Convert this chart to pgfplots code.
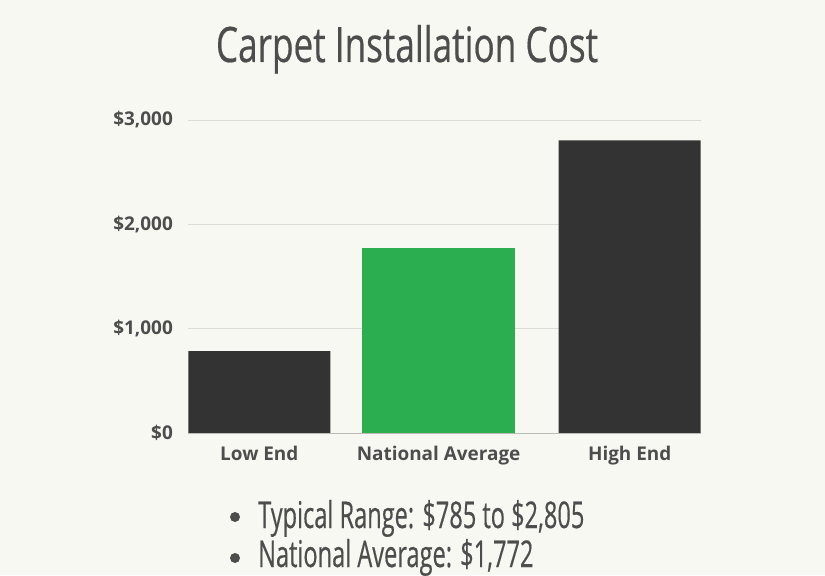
\documentclass[border=0pt]{standalone}
\usepackage{fontspec}
\setmainfont{Open Sans}
\newfontfamily\titlefont[FakeStretch=0.72,FakeBold=0.4]{Open Sans}
\newfontfamily\notefont[FakeStretch=0.64,FakeBold=0.4]{Open Sans}
\usepackage{pgfplots}
\pgfplotsset{compat=1.18}
\definecolor{bg}{HTML}{F8F8F3}
\definecolor{bardark}{HTML}{333333}
\definecolor{bargreen}{HTML}{2BAE4F}
\definecolor{txt}{HTML}{4D4D4D}
\definecolor{gridc}{HTML}{DCDCD6}
\begin{document}
\begin{tikzpicture}[x=1bp,y=1bp]
\fill[bg] (0,0) rectangle (825,575);
\node[font=\titlefont\fontsize{49}{54}\selectfont, text=txt, anchor=base, inner sep=0pt] at (407,513) {Carpet Installation Cost};
\begin{axis}[
  at={(188bp,142bp)}, anchor=south west,
  scale only axis, width=513bp, height=313bp,
  xmin=-0.385, xmax=2.385, ymin=0, ymax=3000,
  axis line style={draw=none},
  ymajorgrids, grid style={gridc, line width=0.8pt},
  ytick={0,1000,2000,3000},
  yticklabels={\$0,{\$1,000},{\$2,000},{\$3,000}},
  xtick={0,0.968,2},
  xticklabels={Low End,National Average,High End},
  major tick length=0pt,
  tick label style={font=\bfseries\fontsize{19}{22}\selectfont, text=txt, inner sep=0pt},
  yticklabel style={anchor=east, xshift=-15bp},
  xticklabel style={anchor=base, yshift=-28bp},
  clip=false,
]
\addplot[ybar, bar width=0.767, bar shift=0pt, fill=bardark, draw=none] coordinates {(0,785) (2,2805)};
\addplot[ybar, bar width=0.826, bar shift=0pt, fill=bargreen, draw=none] coordinates {(0.968,1772)};
\draw[gridc!85!black, line width=0.8pt] (axis cs:-0.385,0) -- (axis cs:2.385,0);
\end{axis}
\begin{scope}[font=\notefont\fontsize{37}{40}\selectfont, text=txt]
\node[anchor=base west, inner sep=0pt] at (258,47) {Typical Range: \$785 to \$2,805};
\node[anchor=base west, inner sep=0pt] at (258,8) {National Average: \$1,772};
\fill[txt] (235,58) circle (5);
\fill[txt] (235,17) circle (5);
\end{scope}
\end{tikzpicture}
\end{document}
